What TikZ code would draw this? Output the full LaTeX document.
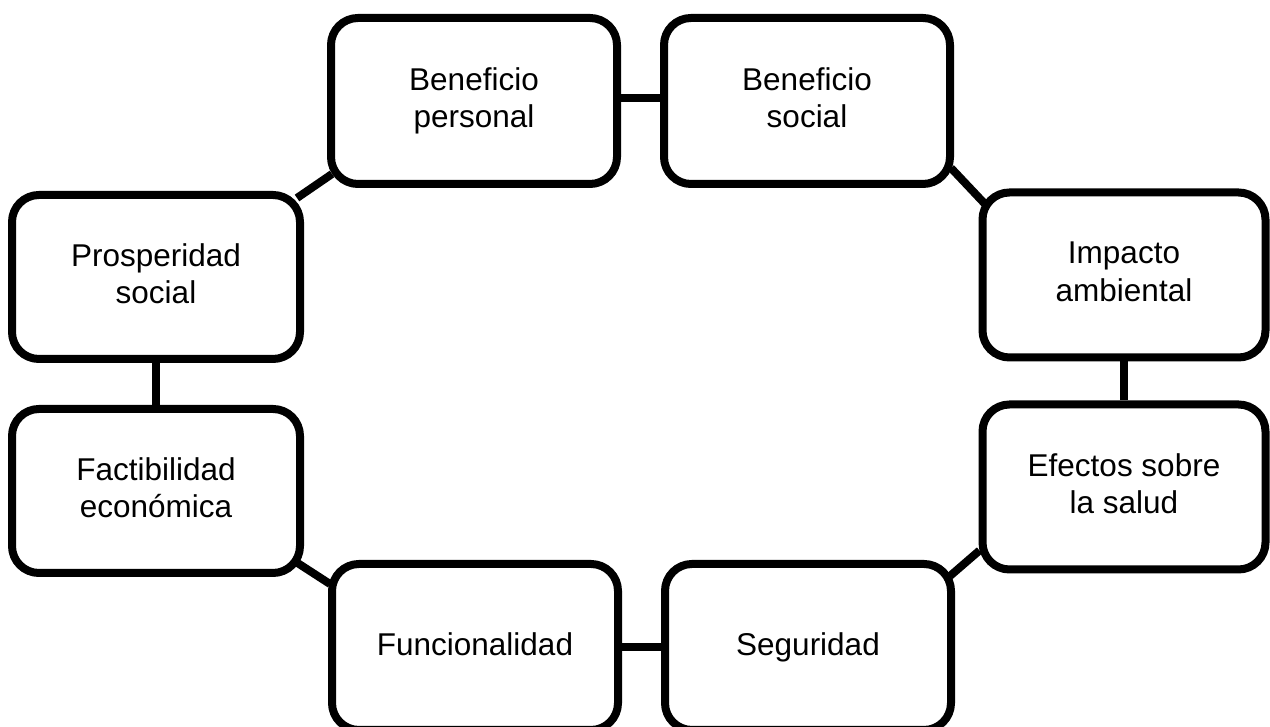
\documentclass[tikz,border=0pt]{standalone}
\usepackage{fontspec}
\setmainfont{Liberation Sans}
\usetikzlibrary{backgrounds,calc}
\begin{document}
\begin{tikzpicture}[x=1pt,y=1pt,
  box/.style={draw=black,fill=white,line width=8pt,rounded corners=27pt,
    minimum width=286pt,minimum height=166pt,inner sep=0pt,align=center,
    text depth=6.6pt,
    font=\fontsize{31.5}{37.5}\selectfont},
  link/.style={draw=black,line width=8pt}]
\useasboundingbox (0,0) rectangle (1270,727);
\node[box] (pers) at (474,626) {Beneficio\\personal};
\node[box] (soc) at (807,626) {Beneficio\\social};
\node[box,minimum width=288pt,minimum height=164pt] (pros) at (156,450) {Prosperidad\\social};
\node[box,minimum width=283pt,minimum height=165pt] (imp) at (1124,452) {Impacto\\ambiental};
\node[box,minimum width=288pt,minimum height=164pt] (fact) at (156,236) {Factibilidad\\econ\'omica};
\node[box,minimum width=283pt,minimum height=165pt] (eff) at (1124,240) {Efectos sobre\\la salud};
\node[box] (func) at (475,80) {Funcionalidad};
\node[box] (seg) at (808,80) {Seguridad};
\begin{scope}[on background layer]
\draw[link] ([yshift=3pt]pers.east) -- ([yshift=3pt]soc.west);
\draw[link] (pros.south) -- (fact.north);
\draw[link] (imp.south) -- (eff.north);
\draw[link] (func.east) -- (seg.west);
\draw[link] ($(pros.north east)+(-7,-7)$) -- ($(pers.south west)+(5,14)$);
\draw[link] ($(soc.south east)+(-3,20)$) -- ($(imp.north west)+(6,-15)$);
\draw[link] ($(fact.south east)+(-8,15)$) -- ($(func.north west)+(2,-24)$);
\draw[link] ($(seg.north east)+(-5,-16)$) -- ($(eff.south west)+(1,23)$);
\end{scope}
\end{tikzpicture}
\end{document}
